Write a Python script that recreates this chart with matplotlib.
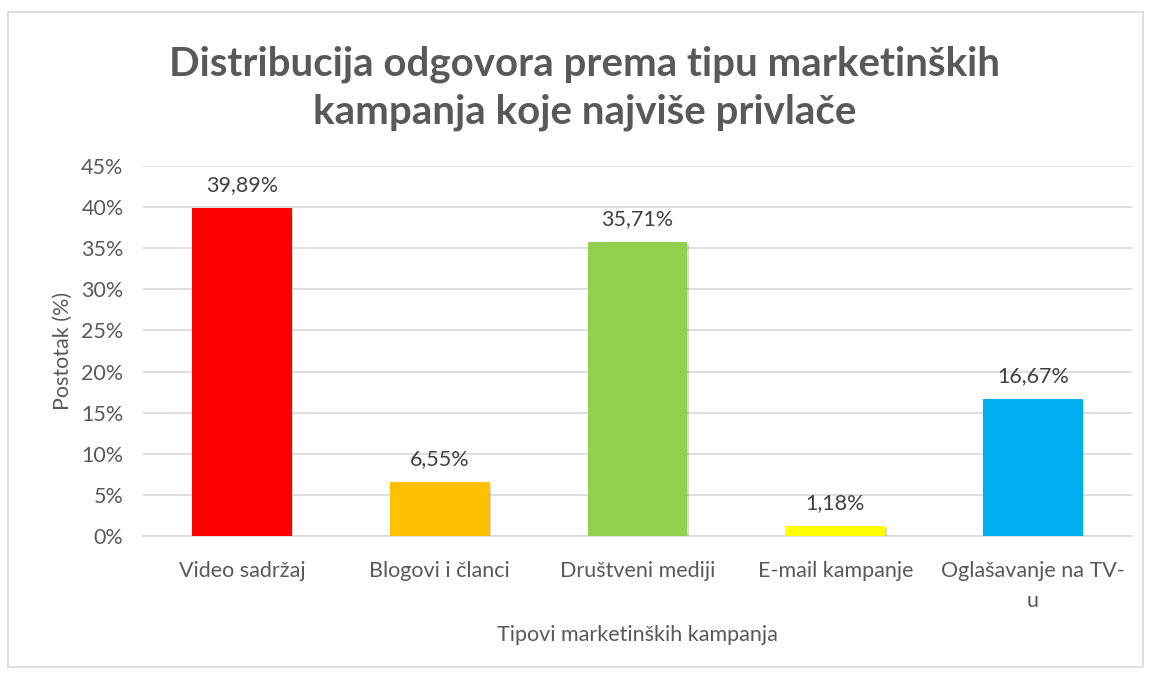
import matplotlib.pyplot as plt
import matplotlib.patheffects as pe
from matplotlib.patches import Rectangle

# Data
categories = ["Video sadržaj", "Blogovi i članci", "Društveni mediji",
              "E-mail kampanje", "Oglašavanje na TV-\nu"]
values = [39.89, 6.55, 35.71, 1.18, 16.67]
value_labels = ["39,89%", "6,55%", "35,71%", "1,18%", "16,67%"]
colors = ["#FF0000", "#FFC000", "#92D050", "#FFFF00", "#00B0F0"]
y_ticks = [0, 5, 10, 15, 20, 25, 30, 35, 40, 45]

plt.rcParams['font.family'] = ['Lato', 'DejaVu Sans']
fs = 15.5

fig = plt.figure(figsize=(11.51, 6.75), dpi=100)
ax = fig.add_axes([0.1242, 0.2059, 0.8593, 0.5482])

# chart border like Excel
fig.patches.append(Rectangle((8 / 1151, 8 / 675), 1135 / 1151, 655 / 675,
                             transform=fig.transFigure, fill=False,
                             edgecolor="#D9D9D9", linewidth=1.2))

x = range(len(categories))
bars = ax.bar(x, values, width=0.505, color=colors, zorder=3)
for b in bars:
    b.set_path_effects([pe.SimplePatchShadow(offset=(1, -1.5), shadow_rgbFace="#7f7f7f", alpha=0.3),
                        pe.Normal()])

for xi, v, lab in zip(x, values, value_labels):
    ax.text(xi, v + 1.6, lab, ha="center", va="bottom", fontsize=fs, color="#404040")

ax.set_xlim(-0.5, len(categories) - 0.5)
ax.set_ylim(0, 45)
ax.set_yticks(y_ticks)
ax.set_yticklabels([f"{t}%" for t in y_ticks])
ax.set_xticks(list(x))
ax.set_xticklabels(categories, linespacing=1.65)
ax.yaxis.grid(True, color="#D9D9D9", linewidth=1.2, zorder=0)
ax.tick_params(axis="both", length=0, labelsize=fs, labelcolor="#595959")
ax.tick_params(axis="x", pad=18)
ax.tick_params(axis="y", pad=14)
for s in ["top", "right", "left"]:
    ax.spines[s].set_visible(False)
ax.spines["bottom"].set_color("#D9D9D9")
ax.spines["bottom"].set_linewidth(1.2)

ax.set_xlabel("Tipovi marketinških kampanja", fontsize=fs, color="#595959", labelpad=10)
ax.set_ylabel("Postotak (%)", fontsize=fs, color="#595959", labelpad=6)

fig.text(0.508, 0.869, "Distribucija odgovora prema tipu marketinških\nkampanja koje najviše privlače",
         ha="center", va="center", fontsize=29, fontweight="bold", color="#595959",
         linespacing=1.33)

fig.savefig("out.png", dpi=100)
